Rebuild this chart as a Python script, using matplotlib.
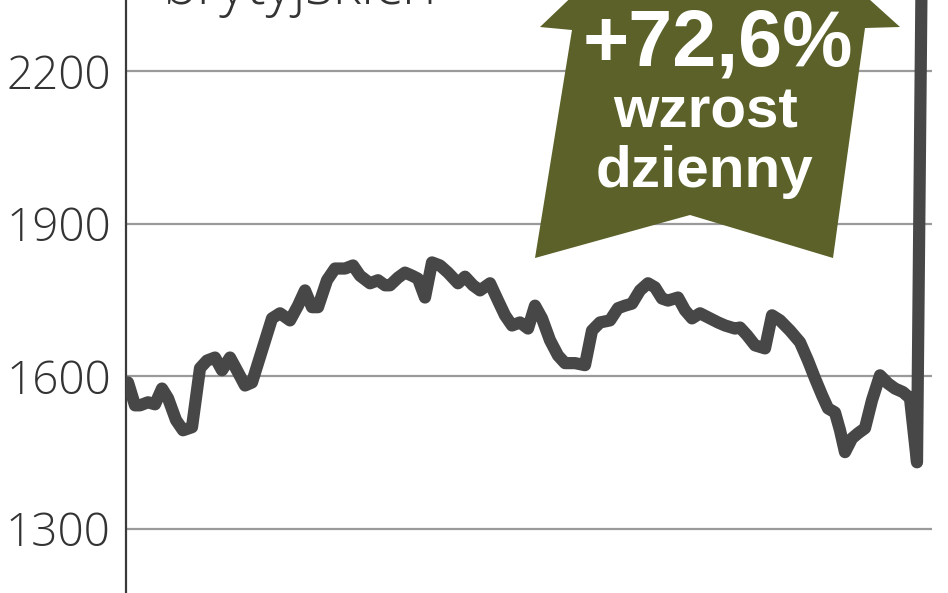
import matplotlib
matplotlib.use("Agg")
import matplotlib.pyplot as plt
from matplotlib.patches import Polygon

# ---- data ----
day = [0, 7, 12, 20, 27, 34, 40, 48, 55, 64, 72, 79, 87, 94, 102, 110, 117, 124,
       134, 144, 152, 162, 170, 177, 184, 190, 199, 207, 217, 225, 232, 242, 250,
       257, 262, 270, 277, 284, 290, 297, 304, 312, 320, 330, 337, 345, 352, 362,
       370, 377, 384, 392, 400, 407, 414, 422, 430, 437, 447, 457, 464, 472, 482,
       490, 497, 504, 512, 520, 527, 534, 540, 550, 557, 564, 572, 582, 590, 597,
       607, 612, 619, 627, 637, 644, 652, 662, 672, 680, 687, 694, 700, 707, 712,
       717, 724, 730, 737, 744, 752, 760, 767, 775, 782, 789, 794]
price = [1588, 1543, 1543, 1549, 1545, 1576, 1557, 1514, 1494, 1500, 1616, 1631,
         1637, 1612, 1637, 1608, 1582, 1588, 1651, 1714, 1724, 1710, 1739, 1769,
         1736, 1736, 1789, 1812, 1812, 1818, 1798, 1783, 1789, 1779, 1779, 1794,
         1804, 1798, 1792, 1755, 1824, 1818, 1804, 1783, 1796, 1779, 1769, 1783,
         1749, 1720, 1700, 1706, 1694, 1739, 1714, 1671, 1641, 1626, 1626, 1622,
         1690, 1706, 1710, 1734, 1739, 1743, 1769, 1783, 1775, 1753, 1749, 1755,
         1730, 1714, 1724, 1714, 1706, 1700, 1694, 1696, 1681, 1661, 1655, 1720,
         1710, 1690, 1667, 1631, 1596, 1563, 1537, 1529, 1494, 1451, 1478, 1488,
         1498, 1553, 1602, 1586, 1576, 1569, 1557, 1431, 2470]
yticks = [1300, 1600, 1900, 2200]
title_text = "brytyjskich"
badge_lines = ["+72,6%", "wzrost", "dzienny"]

W, H = 948, 593
fig = plt.figure(figsize=(W / 100, H / 100), dpi=100)
ax = fig.add_axes([126 / W, 0, 806 / W, 1])

ax.plot(day, price, color="#474747", lw=8.8, solid_joinstyle="round",
        solid_capstyle="round", zorder=3)
ax.set_xlim(-2, 804)
ax.set_ylim(1174, 2340)
ax.set_yticks(yticks)
ax.set_yticklabels([str(t) for t in yticks], fontsize=33, color="#333333",
                   fontfamily="Open Sans", fontweight="light")
ax.set_xticks([])
ax.tick_params(axis="y", length=0, pad=11)
ax.yaxis.grid(True, color="#9a9a9a", lw=1.6, zorder=1)
for s in ["top", "right", "bottom"]:
    ax.spines[s].set_visible(False)
ax.spines["left"].set_color("#3a3a3a")
ax.spines["left"].set_linewidth(1.6)

# title (cut off at top, as in the source)
fig.text(163 / W, 1 - 4 / H, title_text, fontsize=42, color="#333333",
         fontfamily="Open Sans", fontweight="light", va="baseline", ha="left")

# green arrow badge (figure pixel positions)
pts_px = [(715, -140), (900, 27), (865, 28), (833, 258), (690, 215),
          (535, 258), (572, 30), (540, 27)]
pts = [(x / W, 1 - y / H) for x, y in pts_px]
fig.patches.append(Polygon(pts, closed=True, transform=fig.transFigure,
                           facecolor="#5b6128", edgecolor="none", zorder=5))

fig.text(718 / W, 1 - 65 / H, badge_lines[0], fontsize=57, color="white",
         fontfamily="Liberation Sans", fontweight="bold", ha="center",
         va="baseline", zorder=6)
fig.text(706 / W, 1 - 127 / H, badge_lines[1], fontsize=42, color="white",
         fontfamily="Liberation Sans", fontweight="bold", ha="center",
         va="baseline", zorder=6)
fig.text(705 / W, 1 - 187 / H, badge_lines[2], fontsize=42, color="white",
         fontfamily="Liberation Sans", fontweight="bold", ha="center",
         va="baseline", zorder=6)

fig.savefig("out.png", dpi=100)
